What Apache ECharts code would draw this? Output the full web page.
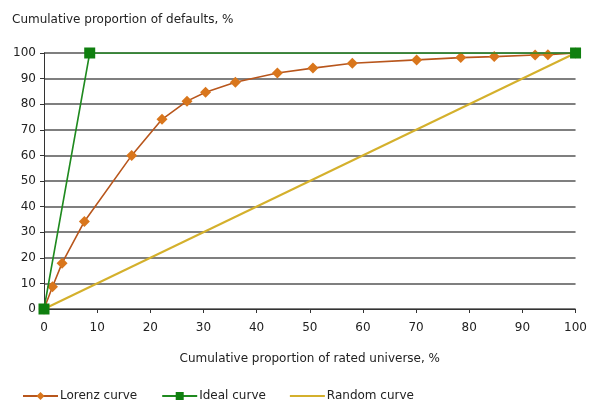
<!DOCTYPE html>
<html>
<head>
<meta charset="utf-8">
<script src="https://cdn.jsdelivr.net/npm/echarts@6/dist/echarts.min.js"></script>
<style>
  html, body { margin: 0; padding: 0; background: #fff; }
  #chart { width: 590px; height: 407px; }
</style>
</head>
<body>
<div id="chart"></div>
<script>
  // data (x = % of rated universe, y = % of defaults)
  var lorenzX = [0, 1.6, 3.4, 7.6, 16.5, 22.2, 26.9, 30.4, 36.0, 43.9, 50.6, 58.0, 70.1, 78.4, 84.7, 92.4, 94.8, 100];
  var lorenzY = [0, 8.7, 17.9, 34.2, 60.0, 74.1, 81.2, 84.7, 88.6, 92.2, 94.1, 96.0, 97.3, 98.2, 98.6, 99.2, 99.3, 100];
  var idealX = [0, 8.6, 100];
  var idealY = [0, 100, 100];
  var randomX = [0, 100];
  var randomY = [0, 100];

  function pairs(xs, ys) {
    var out = [];
    for (var i = 0; i < xs.length; i++) out.push([xs[i], ys[i]]);
    return out;
  }

  var font = 'DejaVu Sans, Verdana, sans-serif';
  var myEchart = echarts.init(document.getElementById('chart'));
  var option = {
    animation: false,
    textStyle: { fontFamily: font, color: '#222' },
    title: {
      text: 'Cumulative proportion of defaults, %',
      left: 7,
      top: 9,
      textStyle: { fontFamily: font, fontSize: 12, fontWeight: 'normal', color: '#222' }
    },
    legend: {
      left: 17,
      bottom: 0,
      itemWidth: 35,
      itemHeight: 10,
      itemGap: 24,
      textStyle: { fontFamily: font, fontSize: 12, color: '#222', padding: [0, 0, 0, -3] },
      data: [
        'Lorenz curve',
        'Ideal curve',
        { name: 'Random curve', icon: 'path://M0,0 L34,0 L34,2 L0,2 Z', itemStyle: { color: '#d4b02c' } }
      ]
    },
    grid: { left: 44, right: 8, top: 53, bottom: 98 },
    xAxis: {
      type: 'value',
      min: 0, max: 100, interval: 10,
      name: 'Cumulative proportion of rated universe, %',
      nameLocation: 'middle',
      nameGap: 44,
      nameTextStyle: { fontFamily: font, fontSize: 12, color: '#222' },
      axisLine: { lineStyle: { color: '#333', width: 1 } },
      axisTick: { show: true, length: 4, lineStyle: { color: '#333' } },
      axisLabel: { fontFamily: font, fontSize: 12, color: '#222', margin: 13 },
      splitLine: { show: false }
    },
    yAxis: {
      type: 'value',
      min: 0, max: 100, interval: 10,
      axisLine: { show: true, lineStyle: { color: '#333', width: 1 } },
      axisTick: { show: true, length: 4, lineStyle: { color: '#333' } },
      axisLabel: { fontFamily: font, fontSize: 12, color: '#222', margin: 8 },
      splitLine: { show: true, lineStyle: { color: '#555', width: 1.5 } }
    },
    series: [
      {
        name: 'Random curve',
        type: 'line',
        data: pairs(randomX, randomY),
        showSymbol: false,
        symbol: 'none',
        lineStyle: { color: '#d4b02c', width: 2 },
        itemStyle: { color: '#d4b02c' },
        z: 2
      },
      {
        name: 'Lorenz curve',
        type: 'line',
        data: pairs(lorenzX, lorenzY),
        symbol: 'diamond',
        symbolSize: 11,
        lineStyle: { color: '#b8561c', width: 1.6 },
        itemStyle: { color: '#d9761c', borderWidth: 0 },
        z: 3
      },
      {
        name: 'Ideal curve',
        type: 'line',
        data: pairs(idealX, idealY),
        symbol: 'rect',
        symbolSize: 11,
        lineStyle: { color: '#1f8a1f', width: 1.6 },
        itemStyle: { color: '#0f7f0f', borderWidth: 0 },
        z: 4
      }
    ]
  };
  myEchart.setOption(option);
</script>
</body>
</html>
